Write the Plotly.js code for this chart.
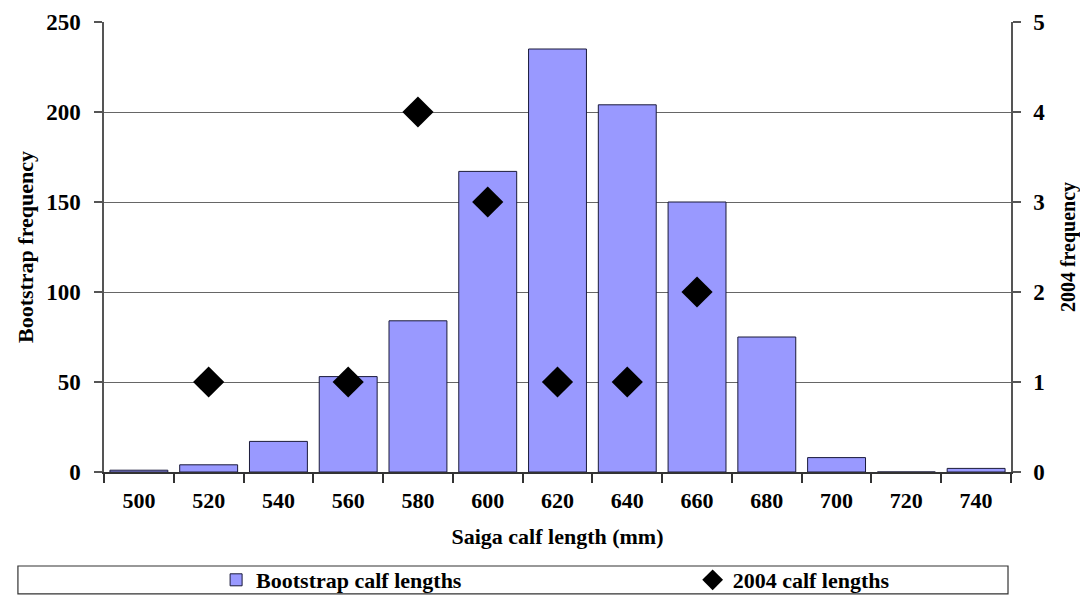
<!DOCTYPE html>
<html>
<head>
<meta charset="utf-8">
<script src="https://cdn.plot.ly/plotly-3.0.1.min.js"></script>
<style>html,body{margin:0;padding:0;background:#fff;}#chart{width:1080px;height:595px;}</style>
</head>
<body>
<div id="chart"></div>
<script>
const lengths = ['500','520','540','560','580','600','620','640','660','680','700','720','740'];
const bootstrapFreq = [1, 4, 17, 53, 84, 167, 235, 204, 150, 75, 8, 0, 2];
const calf2004Lengths = ['520','560','580','600','620','640','660'];
const calf2004Freq = [1, 1, 4, 3, 1, 1, 2];

const fam = 'Liberation Serif';
function f(size) { return {family: fam, size: size, weight: 'bold', color: '#000'}; }

const traces = [
  {
    type: 'bar', name: 'Bootstrap calf lengths',
    x: lengths, y: bootstrapFreq, yaxis: 'y', legend: 'legend',
    marker: {color: '#9999ff', line: {color: '#1a1a3a', width: 1}},
    hoverinfo: 'x+y'
  },
  {
    type: 'scatter', mode: 'markers', name: '2004 calf lengths',
    x: calf2004Lengths, y: calf2004Freq, yaxis: 'y2', legend: 'legend2',
    marker: {symbol: 'diamond', size: 24, color: '#000'},
    hoverinfo: 'x+y'
  }
];

const legendBase = {
  orientation: 'h', xanchor: 'left', y: -0.24, yanchor: 'middle',
  font: f(22), bgcolor: 'rgba(0,0,0,0)', itemclick: false, itemdoubleclick: false
};

const layout = {
  width: 1080, height: 595,
  margin: {l: 104, r: 69, t: 22, b: 123, autoexpand: false},
  paper_bgcolor: '#fff', plot_bgcolor: '#fff',
  font: f(20),
  bargap: 0.17,
  showlegend: true,
  legend: Object.assign({x: 0.1236}, legendBase),
  legend2: Object.assign({x: 0.649}, legendBase),
  xaxis: {
    type: 'category', categoryorder: 'array', categoryarray: lengths,
    showline: true, linecolor: '#333', linewidth: 1.5,
    ticks: 'outside', tickson: 'boundaries', ticklen: 9, tickcolor: '#333', tickwidth: 1.5,
    ticklabelstandoff: 8,
    tickfont: f(22),
    showgrid: false, zeroline: false,
    title: {text: 'Saiga calf length (mm)', font: f(22), standoff: 16}
  },
  yaxis: {
    range: [0, 250], dtick: 50, tick0: 0,
    showline: true, linecolor: '#555', linewidth: 1.5,
    ticks: 'outside', ticklen: 8, tickcolor: '#555', tickwidth: 1.5,
    ticklabelstandoff: 9,
    showgrid: true, gridcolor: '#666', gridwidth: 1.2,
    zeroline: false,
    tickfont: f(23),
    title: {text: 'Bootstrap frequency', font: f(22), standoff: 6}
  },
  yaxis2: {
    overlaying: 'y', side: 'right', range: [0, 5], dtick: 1,
    showline: true, linecolor: '#555', linewidth: 1.5,
    ticks: 'outside', ticklen: 8, tickcolor: '#555', tickwidth: 1.5,
    ticklabelstandoff: 8,
    showgrid: false, zeroline: false,
    tickfont: f(23),
    title: {text: '2004 frequency', font: f(20), standoff: 18}
  },
  shapes: [
    {type: 'rect', xref: 'paper', yref: 'paper',
     x0: -0.0949, x1: 0.9967, y0: -0.2089, y1: -0.271,
     line: {color: '#333', width: 1.2}, fillcolor: 'rgba(0,0,0,0)'}
  ]
};

Plotly.newPlot('chart', traces, layout, {displayModeBar: false, responsive: false});
</script>
</body>
</html>
